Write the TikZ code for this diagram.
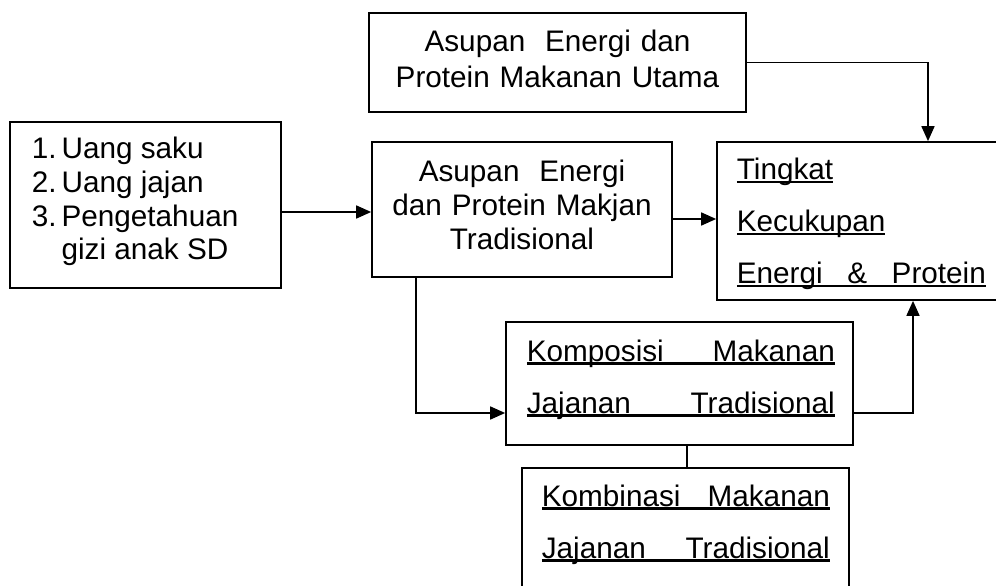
\documentclass[tikz,border=0pt]{standalone}
\usepackage{fontspec}
\setmainfont{Liberation Sans}
\usepackage{tikz}
\usetikzlibrary{arrows.meta,positioning}
\newcommand{\undl}[1]{\leavevmode\setbox0=\hbox{#1}\rlap{\rule[-3.5pt]{\wd0}{2.4pt}}\box0}

\begin{document}
\begin{tikzpicture}[x=1pt,y=-1pt,line width=1.7pt,>={Triangle[length=15pt,width=13pt]},
    font=\fontsize{29.7}{34.2}\selectfont]
  \tikzset{box/.style={draw,rectangle,inner sep=0pt},
    txt/.style={inner sep=0pt,anchor=base west,text width=330pt,align=left},
    mid/.style={inner sep=0pt,anchor=base,text width=370pt,align=center},
    wide/.style={font=\fontsize{29.7}{52}\selectfont}}
  \clip (0,0) rectangle (996,586);
  \node[box,minimum width=271,minimum height=166] (faktor) at (145.5,205) {};
  \node[box,minimum width=377,minimum height=99] (utama) at (557.5,62.5) {};
  \node[box,minimum width=300,minimum height=135] (makjan) at (522,209.5) {};
  \node[box,minimum width=293,minimum height=158] (tingkat) at (863.5,221) {};
  \node[box,minimum width=347,minimum height=123] (komposisi) at (679.5,383.5) {};
  \node[box,minimum width=327,minimum height=172] (kombinasi) at (685.5,554) {};
  \node[inner sep=0pt,anchor=base west,font=\fontsize{29.7}{33.8}\selectfont] (faktor-t) at (31,158.5)
    {\begin{tabular}[t]{@{}l@{\hspace{5pt}}l@{}}1.&Uang saku\\2.&Uang jajan\\3.&Pengetahuan\\&gizi anak SD\end{tabular}};
  \node[mid,font=\fontsize{29.7}{36.5}\selectfont] (utama-t) at (557.5,51.5) {Asupan\ \ Energi dan\\Protein Makanan Utama};
  \node[mid] (makjan-t) at (522,181) {Asupan\ \ Energi\\dan Protein Makjan\\Tradisional};
  \node[txt,wide] (tingkat-t) at (736,179.5)
    {\undl{Tingkat}\\\undl{Kecukupan}\\\undl{\makebox[249pt][s]{Energi\hfill\&\hfill Protein}}};
  \node[txt,wide] (komposisi-t) at (526,361)
    {\undl{\makebox[308pt][s]{Komposisi\hfill Makanan}}\\\undl{\makebox[308pt][s]{Jajanan\hfill Tradisional}}};
  \node[txt,wide] (kombinasi-t) at (541,506)
    {\undl{\makebox[288pt][s]{Kombinasi\hfill Makanan}}\\\undl{\makebox[288pt][s]{Jajanan\hfill Tradisional}}};
  \coordinate (ab) at (0,212);
  \coordinate (bc) at (0,219);
  \coordinate (ut) at (928,0);
  \coordinate (bd) at (416,413);
  \coordinate (dc) at (913,413);
  \coordinate (de) at (687,0);
  \draw[->] (faktor.east |- ab) -- (makjan.west |- ab);
  \draw[->] (makjan.east |- bc) -- (tingkat.west |- bc);
  \draw[->] (utama.east) -| (tingkat.north -| ut);
  \draw[->] (makjan.south -| bd) |- (komposisi.west |- bd);
  \draw[->] (komposisi.east |- dc) -| (tingkat.south -| dc);
  \draw (komposisi.south -| de) -- (kombinasi.north -| de);
\end{tikzpicture}
\end{document}
